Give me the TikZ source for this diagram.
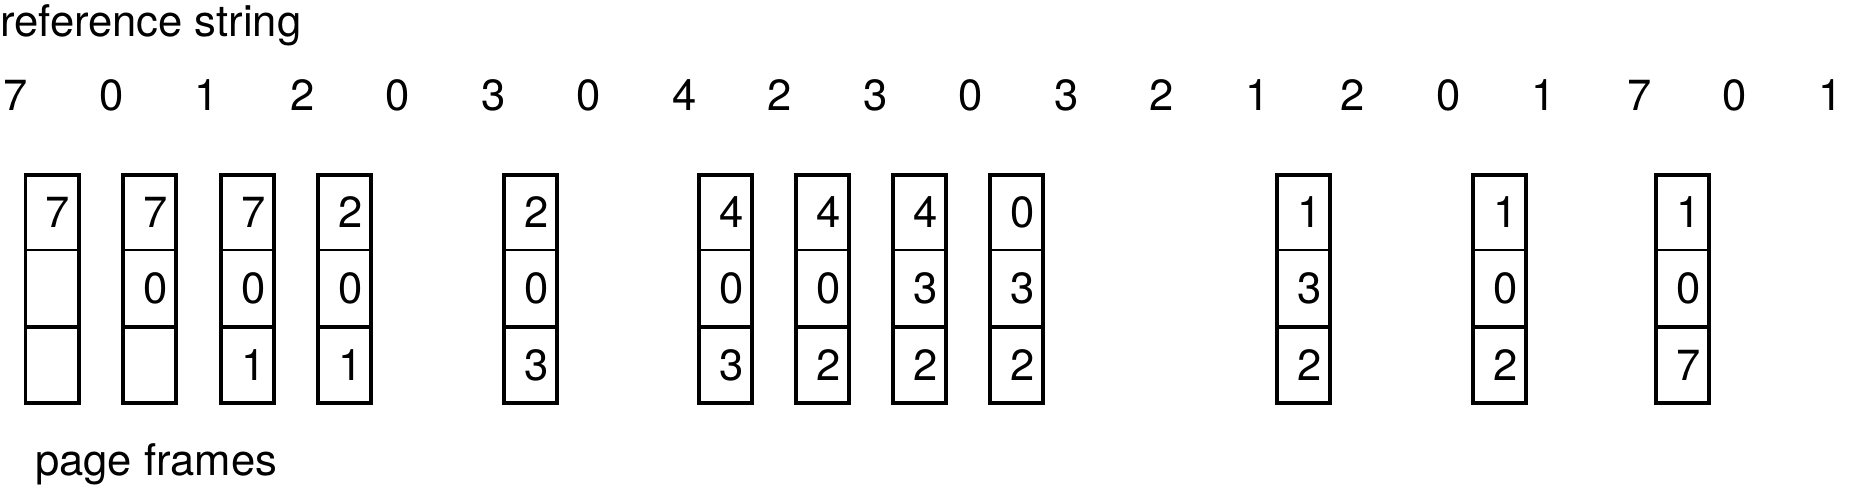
\documentclass[tikz,border=0pt]{standalone}
\usepackage{fontspec}
\setmainfont{TeX Gyre Heros}
\begin{document}
\begin{tikzpicture}[x=1pt,y=-1pt,
  lbl/.style={inner sep=0pt,anchor=base west,font=\fontsize{43.6}{52}\selectfont},
  refnum/.style={inner sep=0pt,anchor=base,font=\fontsize{43.6}{52}\selectfont},
  cellnum/.style={inner sep=0pt,anchor=base,font=\fontsize{43.6}{52}\selectfont},
  frameouter/.style={draw=black,line width=3.8pt,line join=miter},
  divthin/.style={draw=black,line width=2.8pt},
  divthick/.style={draw=black,line width=4.2pt}]
\useasboundingbox (0,0) rectangle (1858,496);
\node[lbl] (title) at (0,36) {reference string};
\node[lbl] (pf) at (35,475) {page frames};
\foreach \d [count=\i from 0] in {7,0,1,2,0,3,0,4,2,3,0,3,2,1,2,0,1,7,0,1}{
  \node[refnum] (r\i) at ({16+95.5*\i},110) {\d};
}
\foreach \L/\a/\b/\c [count=\k] in {23.5/7//,121/7/0/,219/7/0/1,316/2/0/1,502/2/0/3,697/4/0/3,794/4/0/2,891/4/3/2,988/0/3/2,1275/1/3/2,1471/1/0/2,1654/1/0/7}{
  \draw[frameouter] (\L+1.9,174.9) rectangle (\L+55.1,403.1);
  \draw[divthin] (\L+1.9,250) -- (\L+55.1,250);
  \draw[divthick] (\L+1.9,327) -- (\L+55.1,327);
  \node[cellnum] (f\k a) at (\L+34.5,227) {\a};
  \node[cellnum] (f\k b) at (\L+34.5,303.5) {\b};
  \node[cellnum] (f\k c) at (\L+34.5,380) {\c};
}
\end{tikzpicture}
\end{document}
